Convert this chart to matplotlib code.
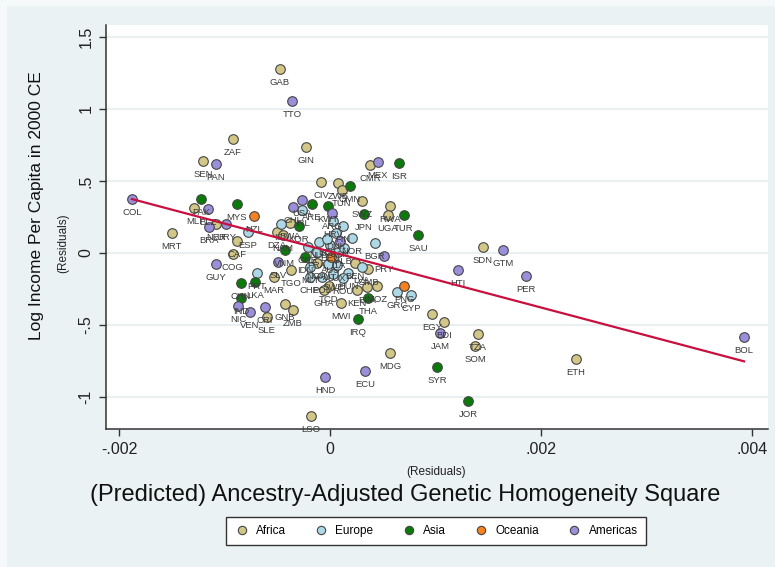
import matplotlib
matplotlib.use("Agg")
import matplotlib.pyplot as plt
from matplotlib.lines import Line2D
from matplotlib.patches import Rectangle

plt.rcParams['font.family'] = ['Liberation Sans', 'DejaVu Sans']

# ---------------- data ----------------
countries = ["COL","PAK","MLI","BLZ","BRA","NER","URY","MYS","NZL","ESP","CAF","COG","GUY","MRT",
             "ZAF","SEN","PAN","GAB","TTO","GIN","CMR","MEX","ISR","CIV","ZWE","OMN","TUN","SWZ",
             "JPN","RWA","UGA","TUR","SAU","BGR","PRY","SDN","GTM","HTI","PER","BOL","ETH","EGY",
             "BDI","JAM","TZA","SOM","MDG","SYR","JOR","ECU","HND","LSO","PNG","GRC","CYP","THA",
             "MOZ","MWI","IRQ","KEN","BFA","TCD","GHA","ZMB","GNB","SLE","CRI","VEN","NIC","IND",
             "CHN","LKA","PRT","MAR","TGO","SLV","VNM","IDN","AUS","ITA","FRA","GBR","DEU","CAN",
             "NLD","BEL","DNK","FIN","NOR","ARG","KWT","ARE","USA","CHL","IRL","BWA","ISL","KOR",
             "DZA","NAM","NGA","AUT","BEN","LVA","GMB","CHE","POL","SWE","HUN","ROU","LUX","ALB",
             "MLT","HRV"]
regions = ["Americas","Asia","Africa","Americas","Americas","Africa","Americas","Asia","Oceania","Europe","Africa","Africa","Americas","Africa",
           "Africa","Africa","Americas","Africa","Americas","Africa","Africa","Americas","Asia","Africa","Africa","Asia","Africa","Africa",
           "Asia","Africa","Africa","Asia","Asia","Europe","Americas","Africa","Americas","Americas","Americas","Americas","Africa","Africa",
           "Africa","Americas","Africa","Africa","Africa","Asia","Asia","Americas","Americas","Africa","Oceania","Europe","Europe","Asia",
           "Africa","Africa","Asia","Africa","Africa","Africa","Africa","Africa","Africa","Africa","Americas","Americas","Americas","Asia",
           "Asia","Asia","Europe","Africa","Africa","Americas","Asia","Asia","Oceania","Europe","Europe","Europe","Europe","Americas",
           "Europe","Europe","Europe","Europe","Europe","Americas","Asia","Asia","Americas","Americas","Europe","Africa","Europe","Asia",
           "Africa","Africa","Africa","Europe","Africa","Europe","Africa","Europe","Europe","Europe","Europe","Europe","Europe","Europe",
           "Europe","Europe"]
x_resid = [-0.001877,-0.001223,-0.001289,-0.001157,-0.001147,-0.001081,-0.000986,-0.000882,-0.000720,-0.000777,-0.000882,-0.000920,-0.001081,-0.001498,
           -0.000920,-0.001204,-0.001081,-0.000474,-0.000360,-0.000228,0.000379,0.000455,0.000654,-0.000085,0.000076,0.000190,0.000114,0.000303,
           0.000322,0.000569,0.000550,0.000702,0.000834,0.000427,0.000512,0.001450,0.001640,0.001213,0.001858,0.003925,0.002332,0.000967,
           0.001081,0.001043,0.001403,0.001375,0.000569,0.001014,0.001308,0.000332,-0.000047,-0.000180,0.000702,0.000635,0.000768,0.000360,
           0.000446,0.000104,0.000265,0.000256,0.000351,-0.000009,-0.000057,-0.000351,-0.000427,-0.000597,-0.000616,-0.000758,-0.000872,-0.000844,
           -0.000844,-0.000711,-0.000692,-0.000531,-0.000370,-0.000493,-0.000427,-0.000237,0.000010,0.000076,-0.000123,-0.000209,0.000000,0.000095,
           -0.000104,-0.000028,0.000057,0.000123,0.000209,0.000019,-0.000019,-0.000171,-0.000265,-0.000351,-0.000265,-0.000379,-0.000465,-0.000294,
           -0.000502,-0.000446,-0.000123,-0.000019,0.000237,0.000303,0.000360,-0.000190,-0.000076,0.000028,0.000171,0.000123,0.000066,0.000133,
           -0.000190,0.000028]
y_resid = [0.375,0.375,0.313,0.306,0.181,0.201,0.201,0.340,0.257,0.146,0.083,-0.007,-0.076,0.139,
           0.792,0.639,0.618,1.278,1.056,0.736,0.611,0.632,0.625,0.493,0.486,0.465,0.438,0.361,
           0.271,0.326,0.264,0.264,0.125,0.069,-0.021,0.042,0.021,-0.118,-0.160,-0.583,-0.736,-0.424,
           -0.479,-0.556,-0.563,-0.646,-0.694,-0.792,-1.028,-0.819,-0.861,-1.132,-0.229,-0.271,-0.292,-0.313,
           -0.229,-0.347,-0.458,-0.257,-0.236,-0.229,-0.257,-0.396,-0.354,-0.444,-0.375,-0.410,-0.368,-0.313,
           -0.208,-0.201,-0.139,-0.167,-0.118,-0.063,0.021,-0.028,-0.028,0.007,0.007,0.042,0.056,0.083,
           0.076,0.097,0.139,0.188,0.104,0.278,0.326,0.340,0.368,0.319,0.299,0.208,0.201,0.188,
           0.146,0.125,-0.069,-0.076,-0.069,-0.097,-0.111,-0.167,-0.167,-0.146,-0.139,-0.174,-0.083,0.035,
           -0.097,0.222]

region_order = ["Africa", "Europe", "Asia", "Oceania", "Americas"]
region_colors = {"Africa": "#D2C786", "Europe": "#ADD8E6", "Asia": "#0A7A0A",
                 "Oceania": "#F5821F", "Americas": "#9A8FDB"}

fit_intercept = 0.010
fit_slope = -194.2

x_ticks = [-0.002, 0.0, 0.002, 0.004]
x_ticklabels = ["-.002", "0", ".002", ".004"]
y_ticks = [-1.0, -0.5, 0.0, 0.5, 1.0, 1.5]
y_ticklabels = ["-1", "-.5", "0", ".5", "1", "1.5"]

# ---------------- figure ----------------
W, H = 775, 567
fig = plt.figure(figsize=(W / 100, H / 100), dpi=100)
bg = "#EAF2F3"
fig.patch.set_facecolor(bg)
# thin lighter outer margin (top / left)
fig.patches.append(Rectangle((0, 1 - 6 / H), 1, 6 / H, transform=fig.transFigure,
                             facecolor="#F6F9FA", edgecolor="none", zorder=0))
fig.patches.append(Rectangle((0, 0), 7 / W, 1, transform=fig.transFigure,
                             facecolor="#F6F9FA", edgecolor="none", zorder=0))

ax = fig.add_axes([106 / W, 1 - 429 / H, (768 - 106) / W, (429 - 25) / H])
ax.set_facecolor("white")

for reg in region_order:
    xs = [x for x, r in zip(x_resid, regions) if r == reg]
    ys = [y for y, r in zip(y_resid, regions) if r == reg]
    ax.scatter(xs, ys, s=48, facecolor=region_colors[reg], edgecolor="#454545",
               linewidth=0.8, zorder=3, label=reg)

for name, x, y in zip(countries, x_resid, y_resid):
    ax.annotate(name, (x, y), xytext=(0, -6.5), textcoords="offset points",
                ha="center", va="top", fontsize=6.8, color="#3a3a3a", zorder=4)

xmin, xmax = min(x_resid), max(x_resid)
ax.plot([xmin, xmax], [fit_intercept + fit_slope * xmin, fit_intercept + fit_slope * xmax],
        color="#C8103E", linewidth=1.6, zorder=5)

ax.set_xlim(-0.002123, 0.004152)
ax.set_ylim(-1.2222, 1.5833)
ax.set_xticks(x_ticks)
ax.set_xticklabels(x_ticklabels, fontsize=11.5, color="#222222")
ax.set_yticks(y_ticks)
ax.set_yticklabels(y_ticklabels, fontsize=11.5, color="#222222", rotation=90, va="center")
ax.tick_params(axis="both", direction="out", length=5, width=1, color="#333333", pad=4)
ax.yaxis.grid(True, color="#E4EDEF", linewidth=1.2, zorder=0)
ax.set_axisbelow(True)
for s in ["top", "right"]:
    ax.spines[s].set_visible(False)
for s in ["left", "bottom"]:
    ax.spines[s].set_color("#333333")
    ax.spines[s].set_linewidth(1.1)

# titles
fig.text(37 / W, 1 - 206 / H, "Log Income Per Capita in 2000 CE", rotation=90,
         ha="center", va="center", fontsize=12.5, color="#111111")
fig.text(63 / W, 1 - 243 / H, "(Residuals)", rotation=90,
         ha="center", va="center", fontsize=8.5, color="#222222")
fig.text(436 / W, 1 - 472 / H, "(Residuals)", ha="center", va="center",
         fontsize=8.5, color="#222222")
fig.text(405 / W, 1 - 495 / H, "(Predicted) Ancestry-Adjusted Genetic Homogeneity Square",
         ha="center", va="center", fontsize=17, color="#111111")

handles = [Line2D([], [], marker="o", linestyle="none", markersize=6,
                  markerfacecolor=region_colors[r], markeredgecolor="#454545",
                  markeredgewidth=0.8) for r in region_order]
leg = fig.legend(handles, region_order, loc="center", bbox_to_anchor=(436 / W, 1 - 531 / H),
                 ncol=5, fontsize=8.5, frameon=True, fancybox=False, edgecolor="#333333",
                 facecolor="white", framealpha=1, columnspacing=2.4, handletextpad=0.6,
                 borderpad=0.7, handlelength=1.2)
leg.get_frame().set_linewidth(1.0)

fig.savefig("out.png", dpi=100, facecolor=fig.get_facecolor())
